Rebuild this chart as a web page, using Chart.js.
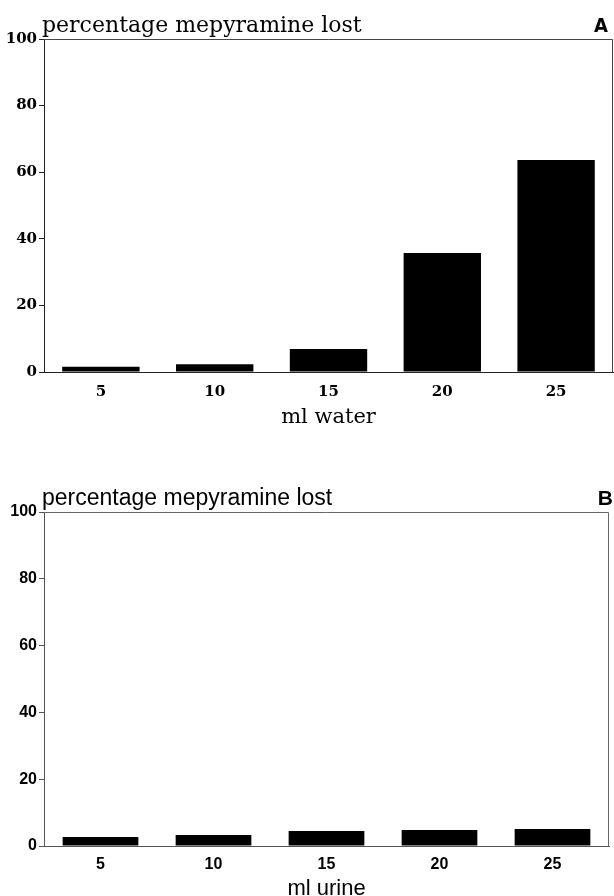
<!DOCTYPE html>
<html>
<head>
<meta charset="utf-8">
<script src="https://cdn.jsdelivr.net/npm/chart.js@4"></script>
<style>
  html, body { margin: 0; padding: 0; background: #fff; }
  .panel { position: absolute; left: 0; }
</style>
</head>
<body>
<div class="panel" style="top:0"><canvas id="chartA" width="614" height="440"></canvas></div>
<div class="panel" style="top:460px"><canvas id="chartB" width="614" height="436"></canvas></div>
<script>
const categories = ['5', '10', '15', '20', '25'];
const waterLost = [1.6, 2.3, 6.9, 35.7, 63.7];
const urineLost = [2.7, 3.3, 4.5, 4.8, 5.1];
const yTicks = [0, 20, 40, 60, 80, 100];

// top + right frame lines, panel title and letter
const framePlugin = {
    id: 'framePlugin',
    afterDraw(chart, args, opts) {
        const { ctx, chartArea: a } = chart;
        ctx.save();
        ctx.strokeStyle = opts.frameColor;
        ctx.lineWidth = 1;
        ctx.beginPath();
        ctx.moveTo(a.left, a.top + 0.5);
        ctx.lineTo(a.right - 0.5, a.top + 0.5);
        ctx.lineTo(a.right - 0.5, a.bottom);
        ctx.stroke();
        ctx.fillStyle = '#000';
        ctx.textBaseline = 'alphabetic';
        ctx.textAlign = 'left';
        ctx.font = opts.titleFont;
        ctx.fillText('percentage mepyramine lost', a.left - 2, a.top - 7);
        ctx.textAlign = 'right';
        ctx.font = opts.letterFont;
        ctx.fillText(opts.letter, opts.letterX, a.top - 7);
        ctx.restore();
    }
};

function makeConfig(values, o) {
    return {
        type: 'bar',
        data: {
            labels: categories,
            datasets: [{
                data: values,
                backgroundColor: '#000',
                borderWidth: 0,
                categoryPercentage: 1,
                barPercentage: o.barPct
            }]
        },
        options: {
            responsive: false,
            animation: false,
            layout: { padding: { left: 0, right: o.padRight, top: o.padTop, bottom: 0 } },
            plugins: {
                legend: { display: false },
                tooltip: { enabled: false },
                framePlugin: {
                    frameColor: o.frameColor,
                    titleFont: o.titleFont,
                    letterFont: o.letterFont,
                    letter: o.letter,
                    letterX: o.letterX
                }
            },
            scales: {
                x: {
                    grid: { display: false, drawTicks: false },
                    border: { display: true, color: o.axisColor, width: 1 },
                    ticks: { color: '#000', font: o.tickFont, padding: o.xTickPad, maxRotation: 0 },
                    title: {
                        display: true,
                        text: o.xTitle,
                        color: '#000',
                        font: o.xTitleFont,
                        padding: { top: 0, bottom: o.xTitlePad }
                    },
                    afterFit: s => { s.height = o.xHeight; }
                },
                y: {
                    min: 0,
                    max: 100,
                    afterBuildTicks: s => { s.ticks = yTicks.map(v => ({ value: v })); },
                    grid: { display: true, drawOnChartArea: false, drawTicks: true, tickLength: 5, color: o.axisColor },
                    border: { display: true, color: o.axisColor, width: 1 },
                    ticks: { color: '#000', font: o.tickFont, padding: 2 },
                    afterFit: s => { s.width = 44; }
                }
            }
        },
        plugins: [framePlugin]
    };
}

new Chart(document.getElementById('chartA'), makeConfig(waterLost, {
    barPct: 0.68,
    padRight: 1,
    padTop: 39,
    xHeight: 68,
    xTickPad: 11,
    xTitlePad: 10,
    xTitle: 'ml water',
    axisColor: '#222',
    frameColor: '#444',
    tickFont: { family: 'DejaVu Serif', size: 15, weight: 'bold' },
    xTitleFont: { family: 'DejaVu Serif', size: 21, lineHeight: 1.2 },
    titleFont: '22px "DejaVu Serif"',
    letterFont: 'bold 20px "DejaVu Sans Condensed"',
    letter: 'A',
    letterX: 608
}));

new Chart(document.getElementById('chartB'), makeConfig(urineLost, {
    barPct: 0.67,
    padRight: 5,
    padTop: 52,
    xHeight: 50,
    xTickPad: 9,
    xTitlePad: -4,
    xTitle: 'ml urine',
    axisColor: '#555',
    frameColor: '#666',
    tickFont: { family: 'Liberation Sans', size: 16, weight: 'bold' },
    xTitleFont: { family: 'Liberation Sans', size: 22, lineHeight: 1 },
    titleFont: '23px "Liberation Sans"',
    letterFont: 'bold 21px "Liberation Sans"',
    letter: 'B',
    letterX: 613
}));
</script>
</body>
</html>
